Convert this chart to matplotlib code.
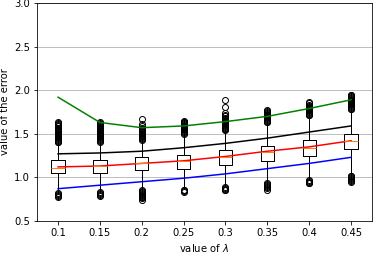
import matplotlib
matplotlib.use('Agg')
import matplotlib.pyplot as plt

lambdas = ['0.1', '0.15', '0.2', '0.25', '0.3', '0.35', '0.4', '0.45']

# summary lines
green = [1.92, 1.63, 1.57, 1.59, 1.64, 1.70, 1.79, 1.89]
black = [1.27, 1.28, 1.30, 1.34, 1.39, 1.45, 1.52, 1.59]
red = [1.12, 1.13, 1.16, 1.19, 1.24, 1.30, 1.35, 1.42]
blue = [0.87, 0.91, 0.95, 0.99, 1.04, 1.10, 1.16, 1.23]

# box statistics
q1 = [1.05, 1.05, 1.08, 1.10, 1.14, 1.19, 1.24, 1.32]
med = [1.11, 1.13, 1.16, 1.19, 1.23, 1.29, 1.34, 1.42]
q3 = [1.20, 1.20, 1.23, 1.26, 1.31, 1.36, 1.43, 1.50]
whislo = [0.83, 0.84, 0.86, 0.87, 0.90, 0.94, 0.97, 1.03]
whishi = [1.39, 1.40, 1.42, 1.49, 1.53, 1.62, 1.70, 1.77]
fliers = [
    [0.78, 0.79, 0.80, 0.81, 0.82,
     1.40, 1.41, 1.42, 1.43, 1.44, 1.45, 1.46, 1.47, 1.48, 1.49, 1.50,
     1.51, 1.52, 1.53, 1.54, 1.55, 1.57, 1.59, 1.60, 1.61, 1.62, 1.63],
    [0.79, 0.80, 0.81, 0.82, 0.83,
     1.41, 1.42, 1.43, 1.44, 1.45, 1.46, 1.47, 1.48, 1.49, 1.50, 1.51,
     1.52, 1.53, 1.54, 1.55, 1.56, 1.57, 1.58, 1.59, 1.60, 1.61, 1.62, 1.64],
    [0.74, 0.76, 0.77, 0.78, 0.79, 0.80, 0.81, 0.82, 0.83, 0.84, 0.85,
     1.43, 1.44, 1.45, 1.46, 1.47, 1.48, 1.49, 1.50, 1.51, 1.52, 1.53,
     1.54, 1.55, 1.56, 1.57, 1.59, 1.61, 1.67],
    [0.83, 0.84, 0.85, 0.86,
     1.50, 1.51, 1.52, 1.53, 1.54, 1.55, 1.56, 1.57, 1.58, 1.59, 1.60,
     1.61, 1.62, 1.63, 1.64, 1.65],
    [0.85, 0.86, 0.87, 0.88, 0.89,
     1.54, 1.55, 1.56, 1.57, 1.58, 1.59, 1.60, 1.61, 1.62, 1.63, 1.64,
     1.65, 1.66, 1.67, 1.68, 1.70, 1.72, 1.74, 1.81, 1.89],
    [0.86, 0.88, 0.89, 0.90, 0.91, 0.92, 0.93,
     1.63, 1.64, 1.65, 1.66, 1.67, 1.68, 1.69, 1.70, 1.71, 1.72, 1.73,
     1.74, 1.75, 1.76, 1.77],
    [0.93, 0.94, 0.95, 0.96, 0.97,
     1.71, 1.72, 1.73, 1.74, 1.75, 1.76, 1.77, 1.78, 1.79, 1.80, 1.81,
     1.82, 1.83, 1.85, 1.87],
    [0.95, 0.96, 0.97, 0.98, 0.99, 1.00, 1.01, 1.02,
     1.78, 1.79, 1.80, 1.81, 1.82, 1.83, 1.84, 1.85, 1.86, 1.87, 1.88,
     1.89, 1.90, 1.91, 1.92, 1.93, 1.94, 1.95],
]

stats = []
for i in range(len(lambdas)):
    stats.append({
        'q1': q1[i], 'med': med[i], 'q3': q3[i],
        'whislo': whislo[i], 'whishi': whishi[i], 'fliers': fliers[i],
    })

fig, ax = plt.subplots(figsize=(375 / 72, 256 / 72), dpi=72)
pos = list(range(1, len(lambdas) + 1))

ax.yaxis.grid(True, color='#b0b0b0', linewidth=0.8)
ax.set_axisbelow(True)

ax.bxp(stats, positions=pos, widths=0.32, showcaps=False,
       flierprops=dict(marker='o', markerfacecolor='none', markersize=6))

ax.plot(pos, green, color='green')
ax.plot(pos, black, color='k')
ax.plot(pos, red, color='r')
ax.plot(pos, blue, color='b')

ax.set_xticks(pos)
ax.set_xticklabels(lambdas)
ax.set_ylim(0.5, 3.0)
ax.set_xlim(0.5, len(lambdas) + 0.5)
ax.set_xlabel('value of $\\lambda$')
ax.set_ylabel('value of the error')

fig.subplots_adjust(left=0.099, right=0.992, bottom=0.137, top=0.988)
fig.savefig('out.png', dpi=72)
